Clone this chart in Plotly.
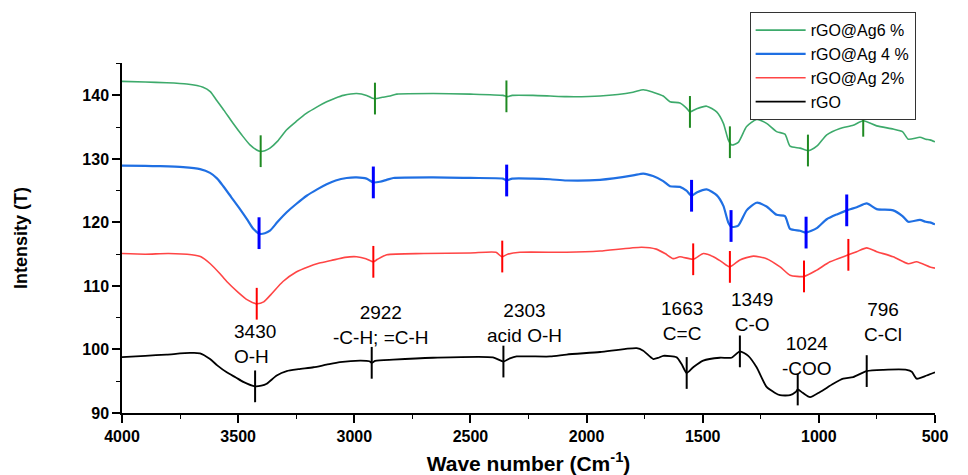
import numpy as np
import plotly.graph_objects as go

# ---------------- data ----------------
x_g = [4000,3900,3808,3721,3651,3620,3592,3560,3522,3485,3449,3420,3406,3385,3363,3330,3291,3250,3205,3160,3119,3080,3047,2990,2947,2925,2911,2880,2846,2817,2661,2500,2360,2340,2320,2231,2157,2086,1942,1800,1756,1714,1670,1641,1598,1570,1555,1526,1483,1440,1411,1390,1375,1347,1311,1268,1225,1182,1146,1124,1081,1045,1009,966,909,852,809,751,680,640,615,565,540,522,500]
y_g = [142.2,142.1,142.0,141.8,141.3,140.6,139.2,137.6,135.6,133.8,132.2,131.4,131.2,131.3,131.7,132.8,134.6,135.9,137.2,138.2,139.0,139.6,140.0,140.3,140.0,139.6,139.5,139.7,139.9,140.2,140.3,140.2,140.0,139.8,140.0,140.0,139.9,139.8,139.9,140.5,140.9,140.5,139.9,139.0,138.8,138.0,137.4,137.9,138.3,137.4,135.6,133.0,132.2,132.6,135.1,136.2,135.6,134.3,133.9,132.0,131.7,131.3,132.0,133.8,134.8,135.3,136.0,135.2,134.7,134.3,133.1,133.4,133.1,133.0,132.7]

x_b = [4000,3900,3836,3737,3664,3621,3590,3564,3530,3492,3460,3435,3406,3385,3363,3330,3291,3250,3205,3160,3119,3080,3033,2990,2947,2918,2890,2861,2832,2661,2500,2360,2344,2320,2231,2157,2086,1942,1800,1756,1714,1670,1641,1598,1570,1548,1526,1483,1440,1411,1390,1375,1347,1311,1268,1225,1182,1146,1124,1081,1055,1009,966,920,880,837,794,751,680,640,615,565,540,522,500]
y_b = [128.95,128.9,128.85,128.7,128.4,127.8,126.9,125.7,124.0,122.1,120.4,119.0,118.2,118.3,118.7,120.1,121.6,122.9,124.2,125.2,126.0,126.6,127.0,127.1,126.9,126.3,126.4,126.7,127.0,127.1,127.0,126.9,126.6,126.9,126.9,126.8,126.6,126.7,127.4,127.7,127.3,126.5,125.7,125.6,125.0,124.2,124.7,125.2,124.3,122.6,120.0,119.3,119.5,121.9,123.1,122.5,121.2,121.0,119.0,118.7,118.4,119.1,120.5,121.3,121.9,122.4,123.0,122.1,121.9,121.0,120.1,120.4,120.1,120.0,119.7]

x_r = [4000,3900,3800,3700,3660,3620,3580,3549,3500,3460,3420,3390,3360,3307,3250,3200,3150,3100,3040,2990,2950,2918,2900,2860,2700,2500,2390,2365,2340,2287,2086,1942,1763,1700,1662,1627,1598,1541,1497,1454,1418,1383,1340,1282,1225,1167,1124,1064,1009,952,873,837,794,751,680,615,579,522,500]
y_r = [115.1,115.0,115.1,114.9,114.6,113.5,112.0,110.7,109.0,107.8,107.2,107.5,108.6,110.7,112.2,113.0,113.6,114.0,114.5,114.6,114.3,113.8,114.2,114.9,115.1,115.2,115.3,114.6,115.0,115.3,115.3,115.5,116.1,115.8,115.1,114.3,114.6,114.2,115.1,114.6,113.8,113.0,114.1,114.7,114.3,113.0,111.7,111.5,112.5,113.8,114.9,115.4,116.0,115.4,114.6,113.5,113.8,113.0,112.8]

x_k = [4000,3900,3808,3707,3664,3621,3590,3549,3510,3478,3427,3400,3377,3334,3291,3240,3176,3120,3062,2975,2935,2925,2910,2833,2661,2403,2358,2330,2301,2157,2086,1942,1784,1756,1713,1690,1670,1612,1591,1569,1541,1498,1426,1376,1340,1304,1268,1225,1190,1167,1124,1100,1091,1070,1038,995,938,895,852,794,722,622,600,579,536,500]
y_k = [98.8,99.0,99.2,99.45,99.4,98.5,97.5,96.4,95.6,94.9,94.2,94.3,94.6,95.9,96.6,96.9,97.2,97.6,98.0,98.25,98.15,97.9,98.2,98.4,98.7,98.76,98.1,98.6,98.9,98.9,99.2,99.6,100.2,99.8,98.5,98.7,99.0,98.76,97.7,96.3,97.2,98.25,98.7,98.7,99.7,99.0,97.2,94.1,93.2,92.8,92.8,93.3,93.7,93.2,92.5,93.3,94.6,95.4,95.65,96.6,96.8,96.8,96.5,95.4,95.9,96.4]

# peak marker positions (wavenumber) per series
marks_g = [3403, 2911, 2345, 1555, 1383, 1047, 809]
marks_b = [3410, 2918, 2344, 1548, 1378, 1055, 880]
marks_r = [3420, 2918, 2363, 1541, 1383, 1064, 873]
marks_k = [3427, 2925, 2358, 1569, 1340, 1091, 794]

series_names = ["rGO@Ag6 %", "rGO@Ag 4 %", "rGO@Ag 2%", "rGO"]

# band annotations
band_text = ["3430<br>O-H", "2922<br>-C-H; =C-H", "2303<br>acid O-H", "1663<br>C=C",
             "1349<br>C-O", "1024<br>-COO", "796<br>C-Cl"]
band_x = [3528, 2885, 2269, 1589, 1288, 1051, 724]
band_y = [96.85, 99.96, 100.3, 100.6, 102.0, 95.0, 100.4]
band_anchor = ["left", "center", "center", "center", "center", "center", "center"]

# ---------------- figure ----------------
FONT = "Arial, Liberation Sans, sans-serif"
fig = go.Figure()

curves = [
    (x_g, y_g, marks_g, "#3daa6b", 1.6, "#1f8a22", 2.0),
    (x_b, y_b, marks_b, "#1f6fe3", 2.2, "#0000ff", 3.0),
    (x_r, y_r, marks_r, "#ff4545", 1.6, "#ff0000", 2.0),
    (x_k, y_k, marks_k, "#000000", 1.8, "#000000", 2.0),
]

for (xs, ys, mk, col, lw, mcol, mw), name in zip(curves, series_names):
    fig.add_trace(go.Scatter(x=xs, y=ys, mode="lines", name=name,
                             line=dict(color=col, width=lw, shape="spline", smoothing=0.6)))

for (xs, ys, mk, col, lw, mcol, mw) in curves:
    xa = np.array(xs[::-1], dtype=float)
    ya = np.array(ys[::-1], dtype=float)
    mx, my = [], []
    for m in mk:
        c = float(np.interp(m, xa, ya))
        mx += [m, m, None]
        my += [c - 2.5, c + 2.5, None]
    fig.add_trace(go.Scatter(x=mx, y=my, mode="lines", showlegend=False,
                             line=dict(color=mcol, width=mw), hoverinfo="skip"))

for t, xx, yy, anc in zip(band_text, band_x, band_y, band_anchor):
    fig.add_annotation(x=xx, y=yy, text=t, showarrow=False, xanchor=anc, yanchor="bottom",
                       align=anc,
                       font=dict(family=FONT, size=19, color="black"))

fig.update_layout(
    width=968, height=475,
    margin=dict(l=122, r=33, t=59, b=62),
    plot_bgcolor="white", paper_bgcolor="white",
    font=dict(family=FONT, color="black"),
    showlegend=True,
    legend=dict(x=0.772, y=1.145, xanchor="left", yanchor="top",
                bordercolor="#333333", borderwidth=1, bgcolor="white",
                font=dict(family=FONT, size=16, color="black"),
                itemwidth=50, tracegroupgap=0),
    xaxis=dict(range=[4000, 500], tickmode="linear", tick0=500, dtick=500, automargin=False,
               showgrid=False, zeroline=False, showline=True, linecolor="black", linewidth=1.5,
               ticks="outside", ticklen=8, tickwidth=1.5, tickcolor="black",
               tickfont=dict(family=FONT, size=16, color="black", weight="bold"),
               minor=dict(dtick=250, ticks="outside", ticklen=4, tickwidth=1.2, tickcolor="black"),
               title=dict(text="Wave number (Cm<sup>-1</sup>)", standoff=16,
                          font=dict(family=FONT, size=21, color="black", weight="bold"))),
    yaxis=dict(range=[90, 145.1], tickmode="linear", tick0=90, dtick=10, automargin=False,
               showgrid=False, zeroline=False, showline=True, linecolor="black", linewidth=1.5,
               ticks="outside", ticklen=8, tickwidth=1.5, tickcolor="black",
               tickfont=dict(family=FONT, size=16, color="black", weight="bold"),
               minor=dict(dtick=5, ticks="outside", ticklen=4, tickwidth=1.2, tickcolor="black"),
               title=dict(text="Intensity (T)", standoff=50,
                          font=dict(family=FONT, size=18, color="black", weight="bold"))),
)

fig.write_html("out.html")
